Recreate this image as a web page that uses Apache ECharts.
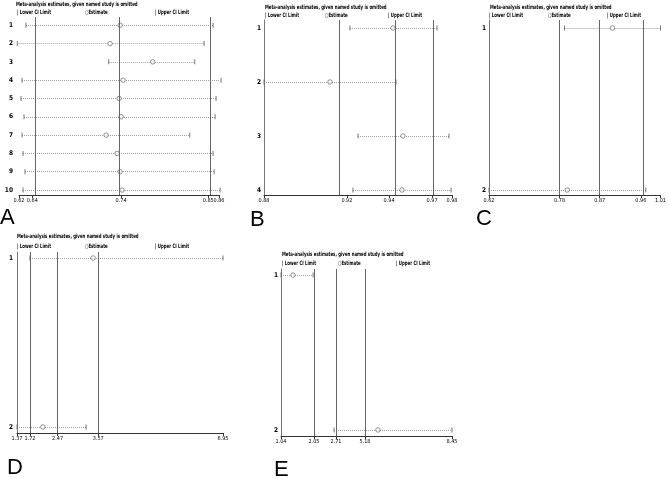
<!DOCTYPE html>
<html>
<head>
<meta charset="utf-8">
<script src="https://cdn.jsdelivr.net/npm/echarts@6/dist/echarts.min.js"></script>
<style>html,body{margin:0;padding:0;background:#fff}#c{width:669px;height:479px}</style>
</head>
<body>
<div id="c"></div>
<script>
// ---- Data ----
const titleText = 'Meta-analysis estimates, given named study is omitted';
const legendTexts = ['| Lower CI Limit', '\u25CBEstimate', '| Upper CI Limit'];
const panelLetters = ['A', 'B', 'C', 'D', 'E'];

// Panel A
const studiesA = [1, 2, 3, 4, 5, 6, 7, 8, 9, 10];
const lowerA = [0.6284, 0.618, 0.7277, 0.6236, 0.6224, 0.626, 0.6236, 0.6248, 0.6272, 0.6248];
const estA   = [0.7413, 0.7293, 0.7805, 0.7449, 0.7401, 0.7425, 0.7245, 0.7377, 0.7413, 0.7437];
const upperA = [0.8529, 0.8421, 0.8309, 0.8625, 0.8565, 0.8553, 0.8249, 0.8529, 0.8541, 0.8613];
const refA = [0.636, 0.7425, 0.847];
const tickValsA = [0.62, 0.636, 0.7425, 0.847, 0.86];
const tickLabelsA = ['0.62', '0.64', '0.74', '0.85', '0.86'];

// Panel B
const studiesB = [1, 2, 3, 4];
const lowerB = [0.9257, 0.880, 0.930, 0.9273];
const estB   = [0.9486, 0.9151, 0.9539, 0.9534];
const upperB = [0.9720, 0.9502, 0.9784, 0.9795];
const refB = [0.9241, 0.9465, 0.9694];
const tickValsB = [0.88, 0.9241, 0.9465, 0.9694, 0.98];
const tickLabelsB = ['0.88', '0.92', '0.94', '0.97', '0.98'];

// Panel C
const studiesC = [1, 2];
const lowerC = [0.7916, 0.62];
const estC   = [0.9008, 0.798];
const upperC = [1.01, 0.9766];
const refC = [0.7805, 0.8718, 0.9654];
const tickValsC = [0.62, 0.7805, 0.8718, 0.9654, 1.01];
const tickLabelsC = ['0.62', '0.78', '0.87', '0.96', '1.01'];

// Panel D
const studiesD = [1, 2];
const lowerD = [1.72, 1.37];
const estD   = [3.43, 2.07];
const upperD = [6.95, 3.24];
const refD = [1.72, 2.47, 3.57];
const tickValsD = [1.37, 1.72, 2.47, 3.57, 6.95];
const tickLabelsD = ['1.37', '1.72', '2.47', '3.57', '6.95'];

// Panel E
const studiesE = [1, 2];
const lowerE = [1.04, 3.34];
const estE   = [1.56, 5.24];
const upperE = [2.43, 8.45];
const refE = [2.47, 3.42, 4.68];
const tickValsE = [1.04, 2.47, 3.42, 4.68, 8.45];
const tickLabelsE = ['1.04', '2.05', '2.71', '5.18', '8.45'];

// ---- Layout ----
const FONT = '"Liberation Sans Narrow", "DejaVu Sans Condensed", sans-serif';
const TXT_SCALE = 0.72;
const panels = [
  {rows: studiesA, lo: lowerA, est: estA, hi: upperA, ref: refA, tv: tickValsA, tl: tickLabelsA,
   grid: {left: 19, top: 17, width: 200, height: 178}, yr: [0.55, 10.27], yLine: false, yMargin: 6,
   title: [16, 4], legend: [[17, 12], [85, 12], [155, 12]], letter: [0, 219]},
  {rows: studiesB, lo: lowerB, est: estB, hi: upperB, ref: refB, tv: tickValsB, tl: tickLabelsB,
   grid: {left: 264, top: 20, width: 188, height: 175}, yr: [0.852, 4.093], yLine: true, yMargin: 3,
   title: [265, 7], legend: [[265, 15.5], [325, 15.5], [388, 15.5]], letter: [250, 220.5]},
  {rows: studiesC, lo: lowerC, est: estC, hi: upperC, ref: refC, tv: tickValsC, tl: tickLabelsC,
   grid: {left: 489, top: 20, width: 175, height: 175}, yr: [0.951, 2.031], yLine: true, yMargin: 3,
   title: [490, 7], legend: [[489, 15.5], [548, 15.5], [607, 15.5]], letter: [476, 220]},
  {rows: studiesD, lo: lowerD, est: estD, hi: upperD, ref: refD, tv: tickValsD, tl: tickLabelsD,
   grid: {left: 17, top: 252, width: 206, height: 181}, yr: [0.9645, 2.0355], yLine: true, yMargin: 4,
   title: [17, 236], legend: [[17, 246], [85, 246], [155, 246]], letter: [7, 468.5]},
  {rows: studiesE, lo: lowerE, est: estE, hi: upperE, ref: refE, tv: tickValsE, tl: tickLabelsE,
   grid: {left: 281, top: 269, width: 171, height: 167}, yr: [0.961, 2.039], yLine: true, yMargin: 3,
   title: [282, 254], legend: [[282, 263], [338, 263], [396, 263]], letter: [274, 471]}
];

const grids = [], xAxes = [], yAxes = [], series = [], graphics = [];
panels.forEach((p, i) => {
  grids.push(Object.assign({containLabel: false}, p.grid));
  xAxes.push({
    type: 'value', gridIndex: i, min: p.tv[0], max: p.tv[p.tv.length - 1],
    splitLine: {show: false},
    axisLine: {show: true, onZero: false, lineStyle: {color: '#333', width: 1}},
    axisTick: {show: true, customValues: p.tv, length: 3, lineStyle: {color: '#333'}},
    axisLabel: {
      customValues: p.tv, fontSize: 5.5, fontFamily: FONT, color: '#000', margin: 3,
      showMinLabel: true, showMaxLabel: true, hideOverlap: false,
      formatter: (v) => {
        let best = 0, bd = Infinity;
        p.tv.forEach((t, k) => { const d = Math.abs(t - v); if (d < bd) { bd = d; best = k; } });
        return p.tl[best];
      }
    }
  });
  yAxes.push({
    type: 'value', gridIndex: i, inverse: true, min: p.yr[0], max: p.yr[1],
    splitLine: {show: false},
    axisLine: {show: p.yLine, onZero: false, lineStyle: {color: '#777', width: 1}},
    axisTick: {show: false},
    axisLabel: {customValues: p.rows, fontSize: 6.5, fontWeight: 'bold', fontFamily: FONT, color: '#000', margin: p.yMargin,
      showMinLabel: true, showMaxLabel: true,
      formatter: (v) => String(Math.round(v))}
  });
  // reference vertical lines (combined estimate and CI)
  series.push({
    type: 'scatter', xAxisIndex: i, yAxisIndex: i, data: [], z: 1, silent: true,
    markLine: {
      silent: true, symbol: ['none', 'none'], label: {show: false},
      lineStyle: {color: '#666', width: 1, type: 'solid'},
      emphasis: {disabled: true},
      data: p.ref.map(v => ({xAxis: v}))
    }
  });
  // CI lines
  series.push({
    type: 'lines', coordinateSystem: 'cartesian2d', xAxisIndex: i, yAxisIndex: i, z: 2, silent: true,
    lineStyle: {color: '#a0a0a0', width: 1, type: [1, 1], opacity: 1},
    data: p.rows.map((r, j) => ({coords: [[p.lo[j], r], [p.hi[j], r]]}))
  });
  // lower / upper ticks
  [p.lo, p.hi].forEach(arr => {
    series.push({
      type: 'scatter', xAxisIndex: i, yAxisIndex: i, z: 3, silent: true, clip: false,
      symbol: 'rect', symbolSize: [1, 5], itemStyle: {color: '#555'},
      data: p.rows.map((r, j) => [arr[j], r])
    });
  });
  // estimates
  series.push({
    type: 'scatter', xAxisIndex: i, yAxisIndex: i, z: 4, silent: true, clip: false,
    symbol: 'circle', symbolSize: 4.5,
    itemStyle: {color: '#fff', borderColor: '#555', borderWidth: 0.8},
    data: p.rows.map((r, j) => [p.est[j], r])
  });
  // title, legend, letter
  graphics.push({type: 'text', x: p.title[0], y: p.title[1], scaleX: TXT_SCALE, silent: true,
    style: {text: titleText, fontSize: 6, fontFamily: FONT, fill: '#000', fontWeight: 'bold', verticalAlign: 'middle'}});
  legendTexts.forEach((t, k) => {
    graphics.push({type: 'text', x: p.legend[k][0], y: p.legend[k][1], scaleX: TXT_SCALE, silent: true,
      style: {text: t, fontSize: 6, fontFamily: FONT, fill: '#000', fontWeight: 'bold', verticalAlign: 'middle'}});
  });
  graphics.push({type: 'text', left: p.letter[0], top: p.letter[1] - 12, silent: true,
    style: {text: panelLetters[i], fontSize: 22, fontFamily: '"Liberation Sans", Arial, sans-serif', fill: '#000'}});
});

const chart = echarts.init(document.getElementById('c'), null, {renderer: 'canvas'});
chart.setOption({
  animation: false,
  backgroundColor: '#fff',
  grid: grids, xAxis: xAxes, yAxis: yAxes, series: series, graphic: graphics
});
</script>
</body>
</html>
